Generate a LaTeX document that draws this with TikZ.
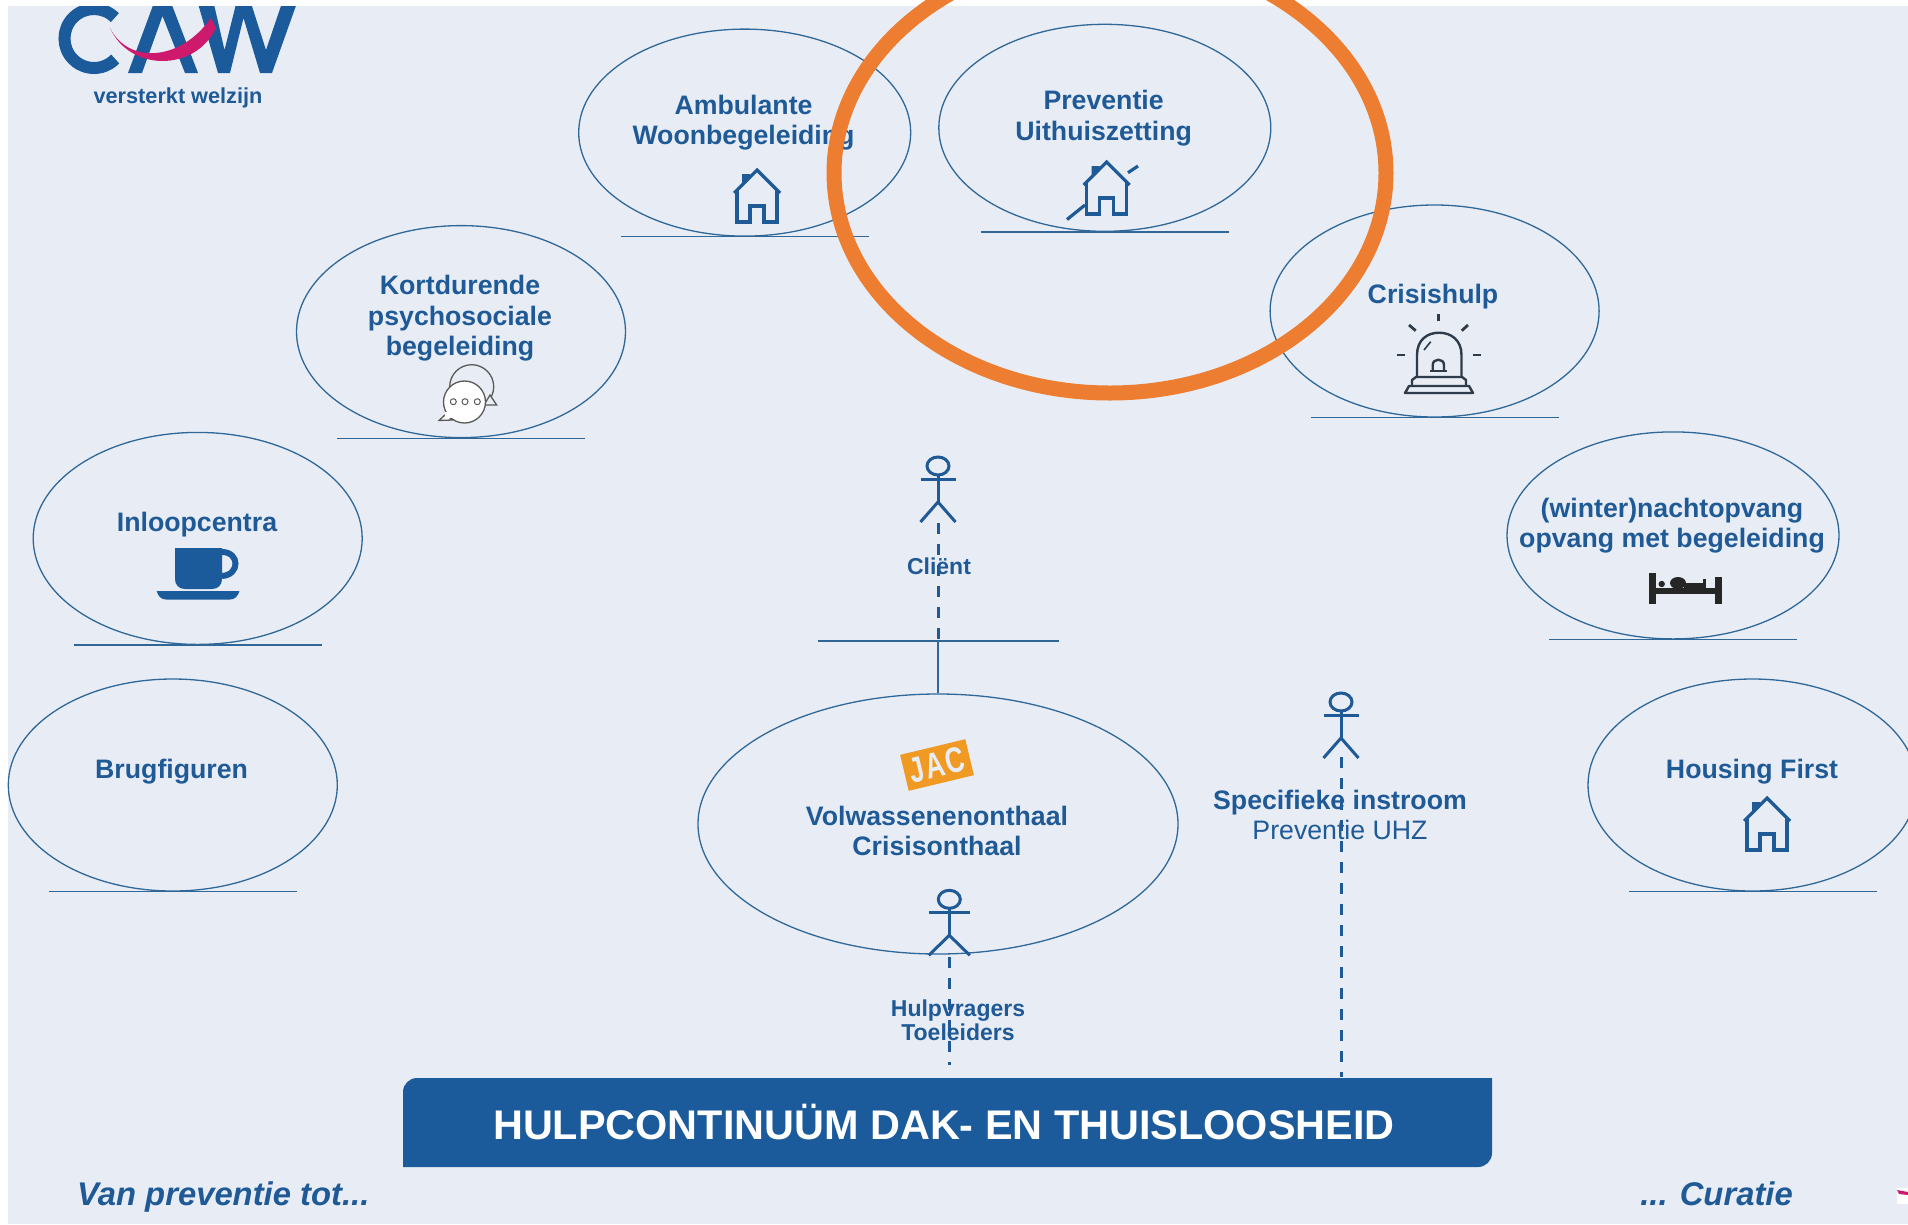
\documentclass[tikz,border=0pt]{standalone}
\usepackage{fontspec}
\setmainfont{Liberation Sans}
\usetikzlibrary{shapes.geometric,calc}
\definecolor{bgc}{HTML}{E8EDF5}
\definecolor{txtc}{HTML}{1F5A96}
\definecolor{ovalc}{HTML}{2F6798}
\definecolor{orangec}{HTML}{ED7D31}
\definecolor{bannerc}{HTML}{1B5A9B}
\definecolor{pinkc}{HTML}{CE1A6C}
\definecolor{bellc}{HTML}{2E3B4A}
\definecolor{jacc}{HTML}{F09A24}
\tikzset{
  x=1pt,y=-1pt,
  oval/.style={draw=ovalc,line width=1.3pt,ellipse,inner sep=0pt,minimum width=332pt,minimum height=207pt},
  baseln/.style={draw=ovalc,line width=1.4pt},
  lbl/.style={text=txtc,font=\bfseries\fontsize{26.7}{30.5}\selectfont,align=center,inner sep=0pt},
  smalllbl/.style={text=txtc,font=\bfseries\fontsize{23}{24.5}\selectfont,align=center,inner sep=0pt},
  sidelbl/.style={text=txtc,font=\bfseries\itshape\fontsize{32.8}{38}\selectfont,inner sep=0pt},
  actorln/.style={draw=txtc,line width=3pt},
  dashln/.style={draw=txtc,line width=3pt,dash pattern=on 11pt off 10pt},
  iconln/.style={draw=txtc,line width=3.2pt,line join=miter},
  pics/house/.style={code={
    \fill[txtc] (-15,4) -- (-15,17) -- (-7,9) -- (-7,4) -- cycle;
    \draw[iconln] (-23,23) -- (0,0) -- (23,23);
    \draw[iconln] (-20,20) -- (-20,52) -- (-7,52) -- (-7,36) -- (7,36) -- (7,52) -- (20,52) -- (20,20);
  }},
  pics/actor/.style={code={
    \draw[actorln] (0,0) ellipse [x radius=11,y radius=9];
    \draw[actorln] (0,9) -- (0,36);
    \draw[actorln] (-#1,13) -- (#1,13);
    \draw[actorln] (-#1,56) -- (0,36) -- (#1,56);
  }}
}
\begin{document}
\begin{tikzpicture}
\useasboundingbox (0,0) rectangle (1908,1224);
\clip (0,0) rectangle (1908,1224);
\fill[bgc] (8,6) rectangle (1908,1224);

% logo
\draw[bannerc,line width=12pt] (94,38.5) ++(45:29.5pt) arc[start angle=45,end angle=316,radius=29.5pt];
\fill[bannerc] (128,73) -- (155,0) -- (170,0) -- (198,73) -- (185,73) -- (162.5,16) -- (142,73) -- cycle;
\fill[bannerc] (197,0) -- (213,0) -- (224.5,50) -- (237,0) -- (250,0) -- (266,50) -- (283,0) -- (298,0) -- (272,73) -- (260,73) -- (243.5,18) -- (230,73) -- (218,73) -- cycle;
\fill[pinkc] (110,28) .. controls (128,64) and (180,62) .. (211,18) -- (216,28) .. controls (195,72) and (130,72) .. (110,28) -- cycle;
\fill[white] (0,0) rectangle (1908,6);
\node[text=txtc,font=\bfseries\fontsize{21.7}{24}\selectfont,inner sep=0pt] (logotxt) at (178,98) {versterkt welzijn};

% ovals
\node[oval] (amb) at (744.7,132.6) {};
\node[oval] (prev) at (1104.8,127.8) {};
\node[oval,minimum width=329pt,minimum height=212pt] (crisis) at (1434.6,311) {};
\node[oval,minimum width=329pt,minimum height=212pt] (kort) at (461,331.6) {};
\node[oval,minimum width=329pt,minimum height=212pt] (inloop) at (197.7,538.4) {};
\node[oval,minimum width=329pt,minimum height=212pt] (brug) at (172.8,785) {};
\node[oval] (winter) at (1673,535.4) {};
\node[oval,minimum width=329pt,minimum height=212pt] (housing) at (1752.5,785) {};
\node[oval,minimum width=480pt,minimum height=260pt] (volw) at (938,824) {};

\foreach \n in {amb,prev,crisis,kort,inloop,brug,winter,housing}{
  \draw[baseln] (\n.south) +(-124pt,0) -- +(124pt,0);
}

% icons
\pic at (757,170) {house};
\pic at (1106.7,162) {house};
\pic at (1767,798) {house};
\draw[iconln] (1067,219.5) -- (1085,205);
\draw[iconln] (1128,172.7) -- (1138,166);

% speech bubbles
\begin{scope}[draw=black!65,line width=1.3pt]
\draw[fill=bgc] (471.7,386.7) circle[radius=22pt];
\draw[fill=bgc] (490,395) -- (496.7,405) -- (484,405) -- cycle;
\draw[fill=white] (464.5,402) circle[radius=21pt];
\draw[fill=white] (446,414) -- (439,420.5) -- (452,420) -- cycle;
\fill[white] (445,412) rectangle (453,418);
\foreach \d in {453.3,465,477.3}{\draw[line width=1pt] (\d,401.7) circle[radius=3pt];}
\end{scope}

% bell
\begin{scope}[draw=bellc,line width=2.4pt]
\draw (1417,376) -- (1417,355) .. controls (1417,340) and (1427,332.7) .. (1439,332.7) .. controls (1451,332.7) and (1461.5,340) .. (1461.5,355) -- (1461.5,376);
\draw[line join=round] (1412,385) -- (1412,380) -- (1416,377) -- (1462,377) -- (1466,380) -- (1466,385);
\draw[line join=round] (1409,386) -- (1469,386) -- (1473,393) -- (1405,393) -- cycle;
\draw (1432.7,371) -- (1432.7,365) .. controls (1432.7,358) and (1444,358) .. (1444,365) -- (1444,371);
\draw (1430,371) -- (1447,371);
\draw[line width=1.6pt] (1424,350) -- (1430.7,341.7);
\draw[line width=2.8pt] (1438.5,314) -- (1438.5,321);
\draw[line width=2.8pt] (1409,325) -- (1415.7,330.7);
\draw[line width=2.8pt] (1468,325) -- (1461.7,330.7);
\draw[line width=2.8pt] (1396.7,355) -- (1405,355);
\draw[line width=2.8pt] (1472.7,355) -- (1480.7,355);
\end{scope}

% cup
\fill[bannerc] (175,548) -- (222,548) -- (222,579) .. controls (222,585) and (218,589) .. (212,589) -- (185,589) .. controls (179,589) and (175,585) .. (175,579) -- cycle;
\draw[bannerc,line width=6pt] (222,552) .. controls (240,552) and (240,575) .. (222,576);
\fill[bannerc] (156.7,591) -- (239.5,591) .. controls (238,596) and (235,599.5) .. (230,599.5) -- (166,599.5) .. controls (161,599.5) and (158,596) .. (156.7,591) -- cycle;

% bed
\fill[black!85] (1649.3,573) rectangle (1656,603.5);
\fill[black!85] (1715,576.7) rectangle (1721.7,603.5);
\fill[black!85] (1656,587.5) rectangle (1715,593.5);
\fill[black!85] (1661.7,584) circle[radius=3.2pt];
\fill[black!85] (1678,583) ellipse[x radius=8,y radius=6];
\fill[black!85] (1684,582.5) rectangle (1706,587.5);
\fill[black!85] (1703,579) rectangle (1706,587);

% JAC
\node[fill=jacc,text=bgc,rotate=13.5,font=\bfseries\fontsize{31}{31}\selectfont,minimum width=67pt,minimum height=37pt,inner sep=0pt] (jac) at (937,765) {\scalebox{0.85}[1.15]{J\kern2pt A\kern2pt C}};

% labels
\node[lbl] (tamb) at (743.5,122.4) {Ambulante\\Woonbegeleiding};
\node[lbl] (tprev) at (1103.6,118) {Preventie\\Uithuiszetting};
\node[lbl] (tkort) at (460,318.2) {Kortdurende\\psychosociale\\begeleiding};
\node[lbl] (tcrisis) at (1433,296.9) {Crisishulp};
\node[lbl] (tinloop) at (197,524.4) {Inloopcentra};
\node[lbl] (tbrug) at (171.6,771.4) {Brugfiguren};
\node[lbl] (twinter) at (1672,525.4) {(winter)nachtopvang\\opvang met begeleiding};
\node[lbl] (thous) at (1752,771.4) {Housing First};
\node[lbl] (tvolw) at (937,831) {Volwassenenonthaal\\Crisisonthaal};
\node[lbl] (tspec) at (1340,815) {Specifieke instroom\\{\mdseries Preventie UHZ}};
\node[smalllbl] (tclient) at (939,566.5) {Cliënt};
\node[smalllbl] (thulp) at (958,1020.5) {Hulpvragers\\Toeleiders};

% banner
\fill[bannerc] (403,1092) -- (403,1167) -- (1478,1167) arc[start angle=-90,end angle=0,radius=14pt] -- (1492,1078) -- (417,1078) arc[start angle=90,end angle=180,radius=14pt] -- cycle;
\node[text=white,font=\bfseries\fontsize{41.4}{46}\selectfont,minimum width=1089pt,minimum height=89pt,inner sep=0pt] (banner) at (947.4,1122) {\kern-7pt HULPCONTINUÜM DAK- EN THUISLOOSHEID};

\node[sidelbl,anchor=west] (tvan) at (77,1197) {Van preventie tot...};
\node[sidelbl,anchor=east] (tcur) at (1793,1194) {... Curatie};

% actors
\pic at (938,466) {actor=17.5};
\pic at (949.3,899.3) {actor=20.5};
\pic at (1341,702) {actor=17.5};
\coordinate (clientfoot) at (938,523);
\coordinate (clientbar) at (938,641);
\coordinate (barl) at (818,641);
\coordinate (barr) at (1059,641);
\coordinate (hulpfoot) at (949.3,957);
\coordinate (hulpend) at (949.3,1065);
\coordinate (specfoot) at (1341,757);

\draw[dashln] (clientfoot) -- (clientbar);
\draw[baseln] (barl) -- (barr);
\draw[baseln] (clientbar) -- (volw.north);
\draw[dashln] (hulpfoot) -- (hulpend);
\draw[dashln] (specfoot) -- (specfoot |- banner.north);

% orange
\draw[orangec,line width=15pt] (1110,173) ellipse[x radius=276,y radius=220];

% corner scrap
\fill[white] (1897,1188) rectangle (1908,1204);
\fill[pinkc] (1897,1190) -- (1908,1192) -- (1908,1195) -- (1899,1194) -- cycle;
\end{tikzpicture}
\end{document}
